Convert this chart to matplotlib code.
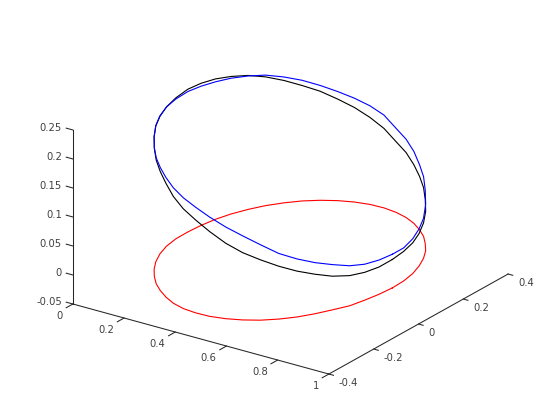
import numpy as np
import matplotlib
matplotlib.use('Agg')
import matplotlib.pyplot as plt
from mpl_toolkits.mplot3d import proj3d

# ring position, shared by the three curves
x = [.898,.895,.884,.865,.841,.811,.776,.738,.696,.651,.603,.552,.500,.447,.395,.345,.297,.253,.214,.179,.151,.128,.112,.103,
     .099,.100,.110,.129,.155,.186,.221,.260,.302,.348,.396,.447,.500,.553,.606,.656,.704,.747,.785,.817,.844,.870,.883,.893]
y = [0,.054,.107,.157,.204,.248,.286,.322,.352,.378,.398,.411,.417,.415,.405,.388,.364,.334,.297,.255,.209,.160,.108,.054,
     0,-.055,-.108,-.159,-.207,-.250,-.289,-.325,-.355,-.382,-.404,-.418,-.423,-.421,-.410,-.392,-.367,-.334,-.296,-.252,-.206,-.159,-.107,-.054]
z_blue = [.058,.057,.060,.064,.069,.080,.092,.103,.112,.124,.135,.145,.160,.170,.179,.188,.198,.208,.217,.225,.230,.234,.237,.240,
          .242,.241,.240,.238,.235,.228,.222,.217,.212,.206,.199,.191,.182,.171,.158,.145,.130,.113,.100,.088,.078,.069,.062,.059]
z_black = [.049,.051,.053,.056,.061,.068,.076,.084,.092,.101,.112,.122,.137,.150,.163,.175,.188,.199,.211,.222,.231,.237,.242,.245,
           .246,.243,.240,.237,.234,.229,.221,.213,.205,.196,.184,.172,.160,.146,.130,.116,.104,.091,.079,.068,.058,.052,.048,.047]
z_red = [0]*len(x)

x_ticks = [0,0.2,0.4,0.6,0.8,1]
y_ticks = [-0.4,-0.2,0,0.2,0.4]
z_ticks = [-0.05,0,0.05,0.1,0.15,0.2,0.25]
x_labels = ['0','0.2','0.4','0.6','0.8','1']
y_labels = ['-0.4','-0.2','0','0.2','0.4']
z_labels = ['-0.05','0','0.05','0.1','0.15','0.2','0.25']

fig = plt.figure(figsize=(5.6,4.2),dpi=100)
ax = fig.add_axes([85.1/560,12.6/420,400/560,400/420],projection='3d',computed_zorder=False)
ax.set_proj_type('ortho')
ax.view_init(elev=23,azim=-55)
ax.set_box_aspect((1,1,0.605),zoom=1.1666)
ax.set_xlim(0,1,view_margin=0)
ax.set_ylim(-0.4,0.4,view_margin=0)
ax.set_zlim(-0.05,0.25,view_margin=0)
ax.set_axis_off()

def closed(v):
    return np.append(v,v[0])

ax.plot(closed(x),closed(y),closed(z_red),color='#ff0000',lw=0.8,clip_on=False)
ax.plot(closed(x),closed(y),closed(z_black),color='#000000',lw=0.8,clip_on=False)
ax.plot(closed(x),closed(y),closed(z_blue),color='#0000ff',lw=0.8,clip_on=False)

# axis lines
ax.plot([0,1],[-0.4,-0.4],[-0.05,-0.05],color='#262626',lw=0.75,clip_on=False)
ax.plot([1,1],[-0.4,0.4],[-0.05,-0.05],color='#262626',lw=0.75,clip_on=False)
ax.plot([0,0],[-0.4,-0.4],[-0.05,0.25],color='#262626',lw=0.75,clip_on=False)

# ticks
for t in x_ticks:
    ax.plot([t,t],[-0.4,-0.43],[-0.05,-0.05],color='#262626',lw=0.75,clip_on=False)
for t in y_ticks:
    ax.plot([1,1.018],[t,t],[-0.05,-0.05],color='#262626',lw=0.75,clip_on=False)
for t in z_ticks:
    ax.plot([0,-0.026],[-0.4,-0.4],[t,t],color='#262626',lw=0.75,clip_on=False)

def label(px,py,pz,s,dx,dy,ha):
    u,v,_ = proj3d.proj_transform(px,py,pz,ax.get_proj())
    ax.annotate(s,(u,v),xytext=(dx,dy),textcoords='offset pixels',ha=ha,va='center',
                fontsize=7.2,color='#404040',annotation_clip=False)

for t,s in zip(x_ticks,x_labels):
    label(t,-0.4,-0.05,s,-10,-11.5,'right')
for t,s in zip(y_ticks,y_labels):
    label(1,t,-0.05,s,10,-9.3,'left')
for t,s in zip(z_ticks,z_labels):
    label(0,-0.4,t,s,-11,2,'right')

fig.savefig('out.png',dpi=100)
